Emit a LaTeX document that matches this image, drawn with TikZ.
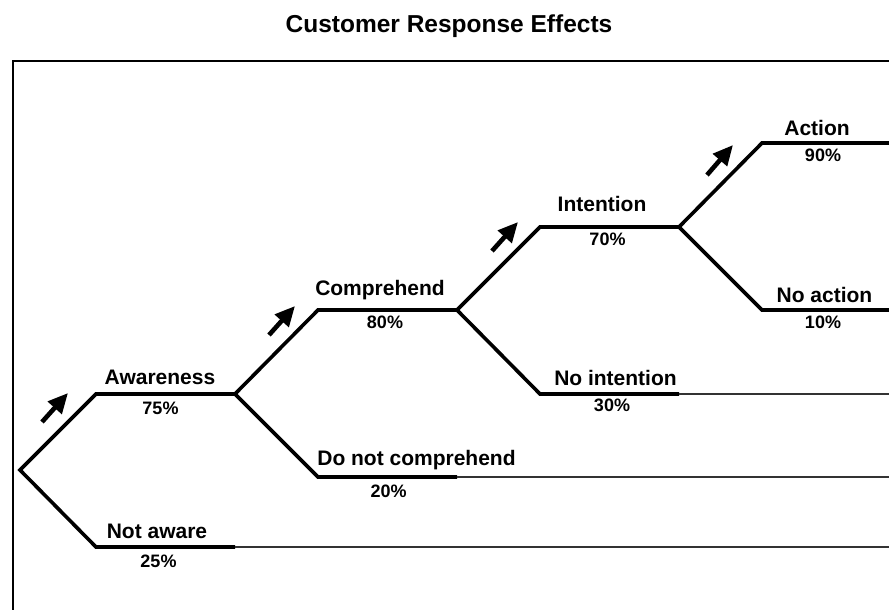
\documentclass[tikz,border=0pt]{standalone}
\usepackage{fontspec}
\setmainfont{Liberation Sans}
\usetikzlibrary{arrows.meta}
\begin{document}
\begin{tikzpicture}[x=1pt,y=-1pt,
  tbranch/.style={line width=3.6pt,line join=miter,miter limit=10},
  tailline/.style={line width=1.1pt,black!80},
  frameline/.style={line width=2pt},
  lbl/.style={font=\fontsize{21}{24}\selectfont\bfseries,inner sep=0pt,anchor=base},
  pct/.style={font=\fontsize{18}{21}\selectfont\bfseries,inner sep=0pt,anchor=base},
  flow/.style={line width=4.6pt,-{Triangle[length=20pt,width=18pt]}}]
\useasboundingbox (0,0) rectangle (889,610);
\node[font=\fontsize{24.5}{28}\selectfont\bfseries,inner sep=0pt,anchor=base] (title) at (449,33) {Customer Response Effects};
% frame
\coordinate (fb) at (13,610);
\coordinate (fc) at (13,61);
\coordinate (fr) at (889,61);
\draw[frameline] (fb) -- (fc) -- (fr);
% tree points
\coordinate (r) at (20,470);
\coordinate (a1) at (96,394);   \coordinate (a2) at (235,394);
\coordinate (n1) at (96,547);   \coordinate (n2) at (235,547);
\coordinate (c1) at (318,310);  \coordinate (c2) at (457,310);
\coordinate (d1) at (318,477);  \coordinate (d2) at (457,477);
\coordinate (i1) at (540,227);  \coordinate (i2) at (679,227);
\coordinate (ni1) at (540,394); \coordinate (ni2) at (679,394);
\coordinate (ac1) at (762,143); \coordinate (ac2) at (889,143);
\coordinate (na1) at (762,310); \coordinate (na2) at (889,310);
\coordinate (nE) at (889,547);
\coordinate (dE) at (889,477);
\coordinate (niE) at (889,394);
% branches
\draw[tbranch] (a2) -- (a1) -- (r) -- (n1) -- (n2);
\draw[tbranch] (c2) -- (c1) -- (a2) -- (d1) -- (d2);
\draw[tbranch] (i2) -- (i1) -- (c2) -- (ni1) -- (ni2);
\draw[tbranch] (ac2) -- (ac1) -- (i2) -- (na1) -- (na2);
% thin continuations
\draw[tailline] (n2) -- (nE);
\draw[tailline] (d2) -- (dE);
\draw[tailline] (ni2) -- (niE);
% flow arrows
\coordinate (f1s) at (42,422);  \coordinate (f1e) at (68,393);
\coordinate (f2s) at (269,335); \coordinate (f2e) at (295,306);
\coordinate (f3s) at (492,251); \coordinate (f3e) at (518,222);
\coordinate (f4s) at (707,175); \coordinate (f4e) at (733,145);
\draw[flow] (f1s) -- (f1e);
\draw[flow] (f2s) -- (f2e);
\draw[flow] (f3s) -- (f3e);
\draw[flow] (f4s) -- (f4e);
% labels
\node[lbl] (aw) at (160,384.5) {Awareness};
\node[pct] (awp) at (160.5,414) {75\%};
\node[lbl] (na) at (157,538.5) {Not aware};
\node[pct] (nap) at (158.5,567.5) {25\%};
\node[lbl] (co) at (380,295) {Comprehend};
\node[pct] (cop) at (385,328.5) {80\%};
\node[lbl] (dc) at (416.5,465) {Do not comprehend};
\node[pct] (dcp) at (388.7,497) {20\%};
\node[lbl] (in) at (602,211) {Intention};
\node[pct] (inp) at (607.5,245) {70\%};
\node[lbl] (ni) at (615.5,385) {No intention};
\node[pct] (nip) at (612,411.7) {30\%};
\node[lbl] (act) at (817,135) {Action};
\node[pct] (actp) at (823,161.7) {90\%};
\node[lbl] (noa) at (824.5,302.3) {No action};
\node[pct] (noap) at (823,328.3) {10\%};
\end{tikzpicture}
\end{document}
